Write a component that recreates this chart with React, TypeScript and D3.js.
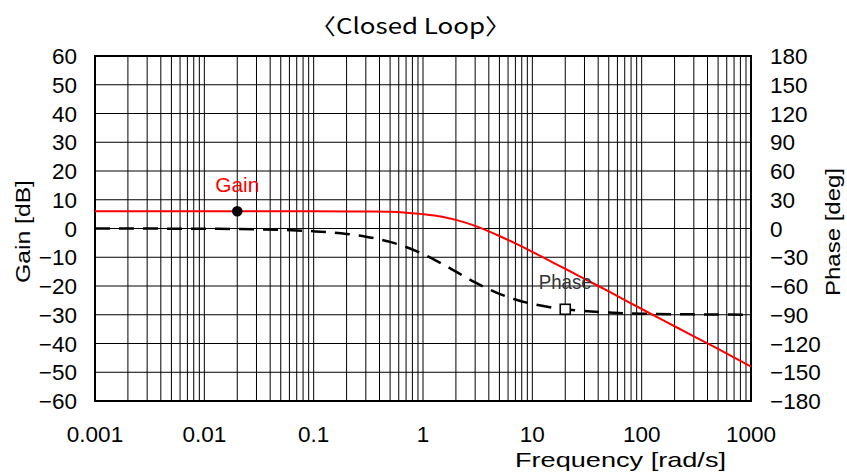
import React from "react";
import * as d3 from "d3";

const gainFreq = [0.001, 0.01, 0.1, 0.3, 0.5, 0.7, 1, 1.5, 2, 3, 4, 5, 7, 10, 15, 20, 30, 50, 100, 200, 500, 1000];
const gainDb = [6.0, 6.0, 6.0, 5.9, 5.8, 5.5, 5.0, 4.1, 3.0, 0.9, -1.0, -2.6, -5.2, -8.1, -11.6, -14.0, -17.5, -21.9, -28.0, -34.0, -41.9, -48.0];

const phaseFreq = [0.001, 0.01, 0.03, 0.1, 0.2, 0.3, 0.5, 0.7, 1, 1.5, 2, 3, 4, 5, 7, 10, 15, 20, 30, 50, 100, 300, 1000];
const phaseDeg = [0, -0.3, -0.9, -2.9, -5.7, -8.5, -14.0, -19.3, -26.6, -36.9, -45.0, -56.3, -63.4, -68.2, -74.1, -78.7, -82.4, -84.3, -86.2, -87.7, -88.9, -89.6, -89.9];

const xTicks = [0.001, 0.01, 0.1, 1, 10, 100, 1000];
const xTickLabels = ["0.001", "0.01", "0.1", "1", "10", "100", "1000"];
const gainTicks = [60, 50, 40, 30, 20, 10, 0, -10, -20, -30, -40, -50, -60];
const phaseTicks = [180, 150, 120, 90, 60, 30, 0, -30, -60, -90, -120, -150, -180];

const gainMarker = { f: 0.02, v: 6.0, label: "Gain" };
const phaseMarker = { f: 20, v: -84.3, label: "Phase" };

const L = 95, R = 751, T = 56, B = 401;
const FONT = "'Liberation Sans', Arial, sans-serif";
const TITLE_FONT = "'Noto Sans CJK JP', 'Noto Sans', sans-serif";

export default function App() {
  const x = d3.scaleLog().domain([0.001, 1000]).range([L, R]);
  const yG = d3.scaleLinear().domain([-60, 60]).range([B, T]);
  const yP = d3.scaleLinear().domain([-180, 180]).range([B, T]);

  const gridX: number[] = [];
  for (let d = -3; d <= 2; d++) for (let k = 1; k <= 9; k++) gridX.push(k * Math.pow(10, d));
  gridX.push(1000);

  const gainLine = d3.line<number>().x((_, i) => x(gainFreq[i])).y((v) => yG(v)).curve(d3.curveMonotoneX)(gainDb) || "";
  const phaseLine = d3.line<number>().x((_, i) => x(phaseFreq[i])).y((v) => yP(v)).curve(d3.curveMonotoneX)(phaseDeg) || "";

  return (
    <svg width={847} height={472} style={{ position: "absolute", left: 0, top: 0, background: "#fff" }} fontFamily={FONT}>
      <rect x={0} y={0} width={847} height={472} fill="#fff" />
      {gridX.map((f, i) => (
        <line key={"gx" + i} x1={x(f)} x2={x(f)} y1={T} y2={B} stroke="#000" strokeWidth={1} />
      ))}
      {gainTicks.map((g, i) => (
        <line key={"gy" + i} x1={L} x2={R} y1={yG(g)} y2={yG(g)} stroke="#000" strokeWidth={1} />
      ))}
      <rect x={L} y={T} width={R - L} height={B - T} fill="none" stroke="#000" strokeWidth={2} />

      <path d={phaseLine} fill="none" stroke="#000" strokeWidth={2.5} strokeDasharray="15,9" />
      <path d={gainLine} fill="none" stroke="#ff0000" strokeWidth={2} />

      <circle cx={x(gainMarker.f)} cy={yG(gainMarker.v)} r={5.3} fill="#000" />
      <rect x={x(phaseMarker.f) - 5} y={yP(phaseMarker.v) - 5} width={10} height={10} fill="#fff" stroke="#000" strokeWidth={1.6} />

      <text x={x(gainMarker.f)} y={192} textAnchor="middle" fontSize={21} fill="#ff0000" textLength={44} lengthAdjust="spacingAndGlyphs">{gainMarker.label}</text>
      <text x={x(phaseMarker.f)} y={289} textAnchor="middle" fontSize={21} fill="#333" textLength={53} lengthAdjust="spacingAndGlyphs">{phaseMarker.label}</text>

      {gainTicks.map((g, i) => (
        <text key={"lt" + i} x={77} y={yG(g)} dy="0.36em" textAnchor="end" fontSize={22.5} fill="#000">{g < 0 ? "\u2212" + Math.abs(g) : String(g)}</text>
      ))}
      {phaseTicks.map((p, i) => (
        <text key={"rt" + i} x={770} y={yP(p)} dy="0.36em" textAnchor="start" fontSize={22.5} fill="#000">{p < 0 ? "\u2212" + Math.abs(p) : String(p)}</text>
      ))}
      {xTicks.map((f, i) => (
        <text key={"xt" + i} x={x(f)} y={434} dy="0.36em" textAnchor="middle" fontSize={22.5} fill="#000">{xTickLabels[i]}</text>
      ))}

      <text x={515} y={467} fontSize={21} fill="#000" textLength={211} lengthAdjust="spacingAndGlyphs">Frequency [rad/s]</text>
      <text transform="translate(30,231.5) rotate(-90)" textAnchor="middle" fontSize={21} fill="#000" textLength={103} lengthAdjust="spacingAndGlyphs">Gain [dB]</text>
      <text transform="translate(840,232) rotate(-90)" textAnchor="middle" fontSize={21} fill="#000" textLength={128} lengthAdjust="spacingAndGlyphs">Phase [deg]</text>
      <text x={410.5} y={34} textAnchor="middle" fontSize={22} fontFamily={TITLE_FONT} fill="#000" style={{ fontFeatureSettings: '"halt"' }} textLength={175} lengthAdjust="spacingAndGlyphs">〈Closed Loop〉</text>
    </svg>
  );
}
